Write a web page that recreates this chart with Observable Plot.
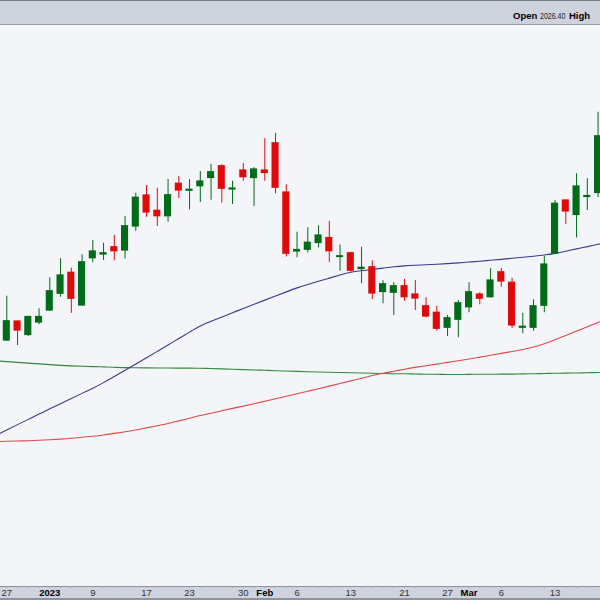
<!DOCTYPE html>
<html>
<head>
<meta charset="utf-8">
<script src="https://cdn.jsdelivr.net/npm/d3@7"></script>
<script src="https://cdn.jsdelivr.net/npm/@observablehq/plot@0.6"></script>
<style>
  html, body { margin: 0; padding: 0; }
  body { width: 600px; height: 600px; overflow: hidden; background: #f4f5f9; font-family: Arial, "Liberation Sans", sans-serif; }
  #hdr { position: relative; height: 23px; background: #cdd2dd; border-top: 1px solid #737887; border-bottom: 1px solid #9aa0ac; white-space: nowrap; overflow: hidden; }
  #hdr span { position: absolute; top: 9px; line-height: 12px; color: #000; }
  #chart svg { display: block; }
</style>
</head>
<body>
<div id="hdr"><span style="left:513px;font-weight:bold;font-size:9.5px">Open</span><span style="left:540px;font-size:9px;color:#222;transform:scaleX(0.78);transform-origin:left center">2026.40</span><span style="left:569px;font-weight:bold;font-size:9.5px">High</span></div>
<div id="chart"></div>
<script>
// trading days (first and last are off-screen, used only for the moving averages)
const dates = ["2022-12-23","2022-12-27","2022-12-28","2022-12-29","2022-12-30",
  "2023-01-03","2023-01-04","2023-01-05","2023-01-06","2023-01-09","2023-01-10","2023-01-11","2023-01-12","2023-01-13",
  "2023-01-17","2023-01-18","2023-01-19","2023-01-20","2023-01-23","2023-01-24","2023-01-25","2023-01-26","2023-01-27",
  "2023-01-30","2023-01-31","2023-02-01","2023-02-02","2023-02-03","2023-02-06","2023-02-07","2023-02-08","2023-02-09","2023-02-10",
  "2023-02-13","2023-02-14","2023-02-15","2023-02-16","2023-02-17","2023-02-21","2023-02-22","2023-02-23","2023-02-24",
  "2023-02-27","2023-02-28","2023-03-01","2023-03-02","2023-03-03","2023-03-06","2023-03-07","2023-03-08","2023-03-09","2023-03-10",
  "2023-03-13","2023-03-14","2023-03-15","2023-03-16","2023-03-17","2023-03-20"];

const open = [null,1828.0,1843.2,1832.4,1842.4,1852.0,1865.4,1882.2,1856.0,1893.8,1896.8,1902.6,1900.0,1919.2,1944.0,1931.8,1927.4,1953.4,1947.8,1951.4,1958.0,1967.4,1948.8,1964.0,1958.0,1964.0,1985.8,1946.4,1899.2,1900.6,1906.0,1910.0,1894.8,1897.8,1885.2,1886.6,1866.8,1866.2,1871.4,1864.8,1855.4,1850.2,1838.2,1844.6,1854.6,1864.8,1862.6,1882.6,1874.2,1838.2,1838.2,1855.8,1897.4,1940.0,1928.4,1942.8,1946.0,null];
const high = [null,1863.4,1843.6,1847.4,1853.4,1878.2,1893.4,1885.8,1896.6,1908.0,1905.8,1912.0,1927.2,1945.8,1952.0,1949.8,1956.8,1959.2,1956.8,1963.2,1969.0,1968.6,1955.4,1969.6,1966.2,1989.4,1993.8,1952.6,1914.6,1918.2,1919.8,1923.4,1904.4,1898.6,1902.6,1891.8,1875.8,1874.2,1876.8,1876.0,1862.2,1855.4,1848.0,1860.0,1874.2,1866.2,1885.4,1885.8,1877.8,1849.8,1860.6,1895.4,1940.0,1940.4,1961.4,1957.4,2010.6,null];
const low = [null,1827.2,1824.0,1831.2,1840.6,1851.2,1862.6,1849.8,1855.4,1890.2,1892.0,1891.8,1893.2,1915.4,1926.6,1919.2,1922.6,1941.6,1932.6,1938.4,1940.2,1938.0,1936.8,1955.4,1935.2,1955.4,1945.4,1894.8,1894.2,1898.0,1902.0,1890.6,1883.4,1882.6,1873.4,1860.8,1857.4,1848.0,1859.4,1852.0,1846.2,1835.4,1831.2,1830.2,1850.2,1856.6,1862.2,1870.6,1837.4,1833.4,1835.4,1850.2,1896.8,1920.8,1910.0,1932.0,1942.4,null];
const close = [null,1843.4,1836.0,1846.8,1846.8,1867.4,1880.0,1861.4,1890.6,1899.2,1897.8,1899.4,1919.4,1942.2,1930.4,1927.4,1944.2,1948.0,1948.6,1955.2,1962.6,1949.4,1949.6,1958.6,1964.8,1962.0,1950.2,1897.4,1900.4,1906.2,1912.0,1899.4,1895.4,1883.8,1886.2,1865.6,1873.0,1871.4,1862.6,1861.6,1847.2,1837.4,1845.8,1857.8,1866.6,1861.4,1876.0,1875.2,1840.0,1839.0,1855.4,1888.8,1937.4,1931.2,1951.2,1943.6,1991.4,null];

// moving averages
const maBlue = [1752.2,1756.5,1760.7,1764.9,1769.1,1773.4,1777.4,1781.6,1785.7,1789.8,1794.2,1799.2,1804.2,1809.2,1814.2,1819.3,1824.4,1829.6,1834.7,1839.9,1843.4,1846.8,1850.2,1853.7,1857.0,1860.3,1863.6,1866.9,1870.2,1872.9,1875.4,1877.9,1880.4,1882.8,1883.8,1884.9,1885.9,1887.0,1887.8,1888.2,1888.6,1889.0,1889.5,1890.1,1890.8,1891.4,1892.2,1892.9,1893.8,1894.6,1895.4,1896.3,1897.6,1899.4,1901.3,1903.1,1905.0,1906.8];
const maRed = [1747.1,1747.4,1747.6,1747.8,1748.2,1748.6,1749.1,1749.7,1750.6,1751.4,1752.4,1753.7,1755.0,1756.3,1758.1,1759.8,1761.5,1763.7,1765.8,1768.0,1769.8,1771.8,1773.7,1775.5,1777.4,1779.4,1781.4,1783.4,1785.4,1787.4,1789.4,1791.5,1793.6,1795.7,1797.8,1800.0,1801.9,1803.4,1805.0,1806.5,1807.8,1809.1,1810.5,1811.8,1813.2,1814.7,1816.2,1817.7,1819.2,1820.8,1822.7,1825.2,1828.6,1832.1,1835.5,1839.0,1842.4,1845.8];
const maGreen = [1811.7,1811.1,1810.5,1809.9,1809.3,1808.7,1808.1,1807.7,1807.4,1807.1,1806.9,1806.6,1806.2,1806.2,1806.1,1806.0,1806.0,1805.9,1805.9,1805.8,1805.6,1805.3,1805.0,1804.7,1804.4,1804.2,1803.8,1803.6,1803.3,1803.0,1802.8,1802.6,1802.4,1802.2,1802.0,1801.8,1801.6,1801.4,1801.4,1801.2,1801.0,1801.0,1800.8,1800.8,1800.9,1801.0,1801.0,1801.1,1801.1,1801.3,1801.4,1801.6,1801.8,1801.9,1802.0,1802.2,1802.4,1802.6];

// x-axis labels
const tickDates = ["2022-12-27","2023-01-09","2023-01-17","2023-01-23","2023-01-30","2023-02-06","2023-02-13","2023-02-21","2023-02-27","2023-03-06","2023-03-13"];
const tickLabels = ["27","9","17","23","30","6","13","21","27","6","13"];
const boldDates = ["2023-01-03","2023-02-01","2023-03-01"];
const boldLabels = ["2023","Feb","Mar"];

const UP = "#006b18", DOWN = "#e00a0a";
const candles = dates.map((d, i) => ({i, date: d, o: open[i], h: high[i], l: low[i], c: close[i]}))
  .filter(d => d.o != null)
  .map(d => ({...d, col: d.c >= d.o ? UP : DOWN}));
const maRows = arr => arr.map((v, i) => ({i, v}));

const regMap = new Map(tickDates.map((d, k) => [dates.indexOf(d), tickLabels[k]]));
const boldMap = new Map(boldDates.map((d, k) => [dates.indexOf(d), boldLabels[k]]));
const FONT = "Arial, 'Liberation Sans', sans-serif";

const chart = Plot.plot({
  width: 600,
  height: 575,
  marginTop: 0,
  marginBottom: 14,
  marginLeft: 0,
  marginRight: 0,
  style: {
    background: "linear-gradient(#f4f5f9 0px, #f4f5f9 561px, #8d929e 561px, #8d929e 562px, #cfd3dd 562px, #cfd3dd 573px, #8d929e 573px, #8d929e 575px)",
    fontFamily: FONT,
    overflow: "hidden"
  },
  x: {type: "linear", domain: [0.414, 56.228], axis: null},
  y: {domain: [1631.2, 2080], axis: null},
  color: {type: "identity"},
  marks: [
    Plot.line(maRows(maGreen), {x: "i", y: "v", stroke: "#2f8a3b", strokeWidth: 1.1, curve: "basis", clip: true}),
    Plot.line(maRows(maRed), {x: "i", y: "v", stroke: "#e0474a", strokeWidth: 1.1, curve: "basis", clip: true}),
    Plot.line(maRows(maBlue), {x: "i", y: "v", stroke: "#3a3a8c", strokeWidth: 1.1, curve: "basis", clip: true}),
    Plot.ruleX(candles, {x: "i", y1: "l", y2: "h", stroke: "col", strokeWidth: 1}),
    Plot.rect(candles, {
      x1: d => d.i - 0.33, x2: d => d.i + 0.33,
      y1: d => Math.min(d.o, d.c), y2: d => Math.max(d.o, d.c),
      fill: "col", insetTop: -0.6, insetBottom: -0.6
    }),
    Plot.axisX(dates.map((d, i) => i), {tickSize: 2, stroke: "#a3a8b3", tickFormat: () => "", label: null}),
    Plot.axisX([...regMap.keys()], {
      tickSize: 0, tickPadding: 3, tickFormat: i => regMap.get(i), label: null,
      fontSize: 9.5, fill: "#333", fontFamily: FONT
    }),
    Plot.axisX([...boldMap.keys()], {
      tickSize: 0, tickPadding: 3, tickFormat: i => boldMap.get(i), label: null,
      fontSize: 9.5, fontWeight: "bold", fill: "#000", fontFamily: FONT
    })
  ]
});
document.getElementById("chart").appendChild(chart);
</script>
</body>
</html>
